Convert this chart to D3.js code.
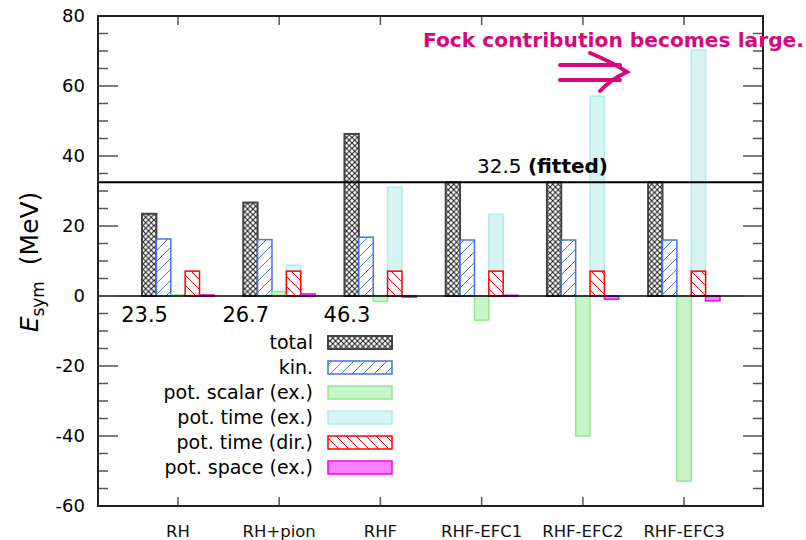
<!DOCTYPE html>
<head>
<meta charset="utf-8">
<script src="https://d3js.org/d3.v7.min.js"></script>
<style>
body { margin:0; background:#fff; }
svg { font-family: "DejaVu Sans", sans-serif; }
</style>
</head>
<body>
<svg width="806" height="540"></svg>
<script>
// data (MeV)
var models   = ["RH", "RH+pion", "RHF", "RHF-EFC1", "RHF-EFC2", "RHF-EFC3"];
var total    = [23.5, 26.7, 46.3, 32.5, 32.5, 32.5];
var kin      = [16.3, 16.1, 16.8, 16.0, 16.0, 16.0];
var potScalarEx = [0.3, 1.3, -1.6, -6.9, -40.0, -52.9];
var potTimeEx   = [0.0, 8.8, 31.1, 23.4, 57.1, 70.3];
var potTimeDir  = [7.1, 7.1, 7.1, 7.1, 7.1, 7.1];
var potSpaceEx  = [0.3, 0.6, -0.3, 0.2, -0.9, -1.4];
var valueLabels = ["23.5", "26.7", "46.3"];
var fitted = 32.5;
var yTicks = [-60, -40, -20, 0, 20, 40, 60, 80];

var series = [
  {name: "total",            vals: total,       slot: -2, fill: "url(#pTotal)", stroke: "#444",    sw: 2},
  {name: "kin.",             vals: kin,         slot: -1, fill: "url(#pKin)",   stroke: "#4a72e0", sw: 1.5},
  {name: "pot. scalar (ex.)",vals: potScalarEx, slot: 0,  fill: "#c8f5c8",      stroke: "#92e892", sw: 1.5},
  {name: "pot. time (ex.)",  vals: potTimeEx,   slot: 1,  fill: "#d5f4f4",      stroke: "#b2ecec", sw: 1.5},
  {name: "pot. time (dir.)", vals: potTimeDir,  slot: 1,  fill: "url(#pRed)",   stroke: "#ff0000", sw: 1.5},
  {name: "pot. space (ex.)", vals: potSpaceEx,  slot: 2,  fill: "#ff80ff",      stroke: "#ee00ee", sw: 1.5}
];

var svg = d3.select("svg");
var L = 98, R = 763, T = 16, B = 506;

var x = d3.scaleLinear().domain([-0.79, 5.78]).range([L, R]);
var y = d3.scaleLinear().domain([-60, 80]).range([B, T]);
var bw = 0.142;

// patterns
var defs = svg.append("defs");
var p1 = defs.append("pattern").attr("id", "pTotal").attr("patternUnits", "userSpaceOnUse")
  .attr("width", 5.5).attr("height", 5.5);
p1.append("rect").attr("width", 5.5).attr("height", 5.5).attr("fill", "#fff");
p1.append("path").attr("d", "M-1,-1L6.5,6.5M6.5,-1L-1,6.5").attr("stroke", "#222").attr("stroke-width", 1.1);

var p2 = defs.append("pattern").attr("id", "pKin").attr("patternUnits", "userSpaceOnUse")
  .attr("width", 11).attr("height", 11);
p2.append("rect").attr("width", 11).attr("height", 11).attr("fill", "#fff");
p2.append("path").attr("d", "M-1,12L12,-1").attr("stroke", "#4a72e0").attr("stroke-width", 1);

var p3 = defs.append("pattern").attr("id", "pRed").attr("patternUnits", "userSpaceOnUse")
  .attr("width", 10).attr("height", 10);
p3.append("rect").attr("width", 10).attr("height", 10).attr("fill", "#fff");
p3.append("path").attr("d", "M-1,-1L11,11").attr("stroke", "#ff0000").attr("stroke-width", 1);

// bars
series.forEach(function(s) {
  svg.append("g").selectAll("rect").data(s.vals).enter().append("rect")
    .attr("x", (d, i) => x(i + (s.slot - 0.5) * bw))
    .attr("width", x(bw) - x(0))
    .attr("y", d => y(Math.max(0, d)))
    .attr("height", d => Math.abs(y(d) - y(0)))
    .attr("fill", s.fill)
    .attr("stroke", s.stroke)
    .attr("stroke-width", s.sw);
});

// zero line and fitted line
svg.append("line").attr("x1", L).attr("x2", R).attr("y1", y(0)).attr("y2", y(0))
  .attr("stroke", "#000").attr("stroke-width", 1.5);
svg.append("line").attr("x1", L).attr("x2", R).attr("y1", y(fitted)).attr("y2", y(fitted))
  .attr("stroke", "#000").attr("stroke-width", 2.2);

// axes
var tickCol = "#555";
var minor = d3.range(-60, 81, 5);
svg.append("g").selectAll("line").data(minor).enter().append("line")
  .attr("x1", L).attr("x2", d => L + (d % 20 == 0 ? 20 : 10))
  .attr("y1", d => y(d)).attr("y2", d => y(d))
  .attr("stroke", tickCol).attr("stroke-width", 1.5);
svg.append("g").selectAll("line").data(minor).enter().append("line")
  .attr("x1", R).attr("x2", d => R - (d % 20 == 0 ? 20 : 10))
  .attr("y1", d => y(d)).attr("y2", d => y(d))
  .attr("stroke", tickCol).attr("stroke-width", 1.5);
svg.append("g").selectAll("line").data(models).enter().append("line")
  .attr("x1", (d, i) => x(i)).attr("x2", (d, i) => x(i))
  .attr("y1", B).attr("y2", B - 9)
  .attr("stroke", tickCol).attr("stroke-width", 1.5);
svg.append("g").selectAll("line").data(models).enter().append("line")
  .attr("x1", (d, i) => x(i)).attr("x2", (d, i) => x(i))
  .attr("y1", T).attr("y2", T + 9)
  .attr("stroke", tickCol).attr("stroke-width", 1.5);

svg.append("rect").attr("x", L).attr("y", T).attr("width", R - L).attr("height", B - T)
  .attr("fill", "none").attr("stroke", "#222").attr("stroke-width", 2);

svg.append("g").selectAll("text").data(yTicks).enter().append("text")
  .attr("x", L - 13).attr("y", d => y(d)).attr("dy", "0.36em")
  .attr("text-anchor", "end").attr("font-size", 18).text(d => d);

svg.append("g").selectAll("text").data(models).enter().append("text")
  .attr("x", (d, i) => x(i)).attr("y", 537)
  .attr("text-anchor", "middle").attr("font-size", 16.5).attr("fill", "#111").text(d => d);

// y label
var yl = svg.append("text").attr("transform", "translate(38,262) rotate(-90)")
  .attr("text-anchor", "middle").attr("font-size", 25);
yl.append("tspan").attr("font-style", "italic").text("E");
yl.append("tspan").attr("font-size", 17).attr("dy", 6).text("sym");
yl.append("tspan").attr("dy", -6).text("\u00a0 (MeV)");

// value labels under first three groups
svg.append("g").selectAll("text").data(valueLabels).enter().append("text")
  .attr("x", (d, i) => x(i - 0.33)).attr("y", 322)
  .attr("text-anchor", "middle").attr("font-size", 21).text(d => d);

// fitted label
var ft = svg.append("text").attr("x", 477).attr("y", 173).attr("font-size", 20);
ft.append("tspan").text("32.5 ");
ft.append("tspan").attr("font-weight", "bold")
  .attr("font-family", "'Comic Sans MS', 'DejaVu Sans', sans-serif").text("(fitted)");

// legend
var lg = svg.append("g");
series.forEach(function(s, i) {
  var cy = 342.5 + i * 25;
  lg.append("text").attr("x", 313).attr("y", cy).attr("dy", "0.36em")
    .attr("text-anchor", "end").attr("font-size", 19).text(s.name);
  lg.append("rect").attr("x", 328).attr("y", cy - 6.5).attr("width", 64).attr("height", 13)
    .attr("fill", s.fill).attr("stroke", s.stroke).attr("stroke-width", s.sw);
});

// annotation
var pink = "#d6077b";
svg.append("text").attr("x", 423).attr("y", 47)
  .attr("font-family", "'Comic Sans MS', 'DejaVu Sans', sans-serif")
  .attr("font-weight", "bold").attr("font-size", 20).attr("fill", pink)
  .attr("textLength", 381).attr("lengthAdjust", "spacingAndGlyphs")
  .text("Fock contribution becomes large.");
svg.append("path")
  .attr("d", "M560,65L620,65M560,80L620,80M590,53Q612,62 627,72Q610,80 600,91")
  .attr("fill", "none").attr("stroke", pink).attr("stroke-width", 4).attr("stroke-linecap", "round");
</script>
</body>
